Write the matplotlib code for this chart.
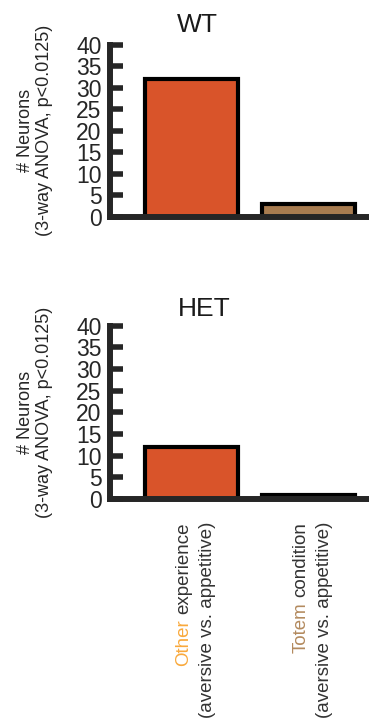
import numpy as np
import matplotlib
matplotlib.use('Agg')
import matplotlib.pyplot as plt
from matplotlib.transforms import IdentityTransform

plt.rcParams['font.family'] = ['Liberation Sans', 'DejaVu Sans']

# data
categories = ['Other', 'Totem']
cat_rest = ['experience', 'condition']
cat_sub = '(aversive vs. appetitive)'
groups = ['WT', 'HET']
wt_counts = [32, 3]
het_counts = [12, 1]
yticks = [0, 5, 10, 15, 20, 25, 30, 35, 40]
ylabel = '# Neurons\n(3-way ANOVA, p<0.0125)'

bar_colors = ['#D9542A', '#A87C50']
word_colors = ['#F9A93C', '#B38A5E']
dark = '#262626'

W, H = 369, 724
fig = plt.figure(figsize=(W / 100, H / 100), dpi=100)


def make_axes(zero_y, span):
    # zero_y / span in pixels measured from the top of the image
    return fig.add_axes([110 / W, 1 - zero_y / H, 259 / W, span / H])


def style_axes(ax, counts):
    x = np.arange(len(counts))
    ax.bar(x, counts, width=0.8, color=bar_colors, edgecolor='black', linewidth=3.0)
    ax.set_xlim(-0.697, 1.517)
    ax.set_ylim(0, 40)
    ax.set_yticks(yticks)
    ax.set_xticks([])
    for s in ['top', 'right']:
        ax.spines[s].set_visible(False)
    for s in ['left', 'bottom']:
        ax.spines[s].set_color(dark)
        ax.spines[s].set_linewidth(4.3)
        ax.spines[s].set_capstyle('projecting')
    ax.tick_params(axis='y', direction='in', length=9, width=4, color=dark,
                   labelsize=16.5, labelcolor=dark, pad=6)
    ax.patch.set_visible(False)


ax_wt = make_axes(217, 172.5)
ax_het = make_axes(499, 173.5)
style_axes(ax_wt, wt_counts)
style_axes(ax_het, het_counts)

# titles
fig.text(177 / W, 1 - 32 / H, groups[0], ha='left', va='baseline', fontsize=19, color='#1a1a1a')
fig.text(178 / W, 1 - 316 / H, groups[1], ha='left', va='baseline', fontsize=19, color='#1a1a1a')

# y labels
for ax in [ax_wt, ax_het]:
    pos = ax.get_position()
    fig.text(35 / W, pos.y0 + pos.height / 2, ylabel, rotation=90, ha='center', va='center',
             multialignment='center', fontsize=13, color=dark)

# category labels (rotated, first word coloured)
fs = 13.5
renderer = fig.canvas.get_renderer()
ytop = H - 522
for i, (word, rest) in enumerate(zip(categories, cat_rest)):
    xc = ax_het.transData.transform((i, 0))[0]
    full = word + ' ' + rest
    tmp = fig.text(0, 0, full, fontsize=fs)
    L = tmp.get_window_extent(renderer).width
    tmp.remove()
    xb1 = xc - 3
    xb2 = xc + 20
    kw = dict(rotation=90, rotation_mode='anchor', va='baseline', fontsize=fs,
              transform=IdentityTransform())
    fig.text(xb1, ytop, rest, ha='right', color='#333333', **kw)
    fig.text(xb1, ytop - L, word, ha='left', color=word_colors[i], **kw)
    fig.text(xb2, ytop, cat_sub, ha='right', color='#333333', **kw)

fig.savefig('out.png', dpi=100)
